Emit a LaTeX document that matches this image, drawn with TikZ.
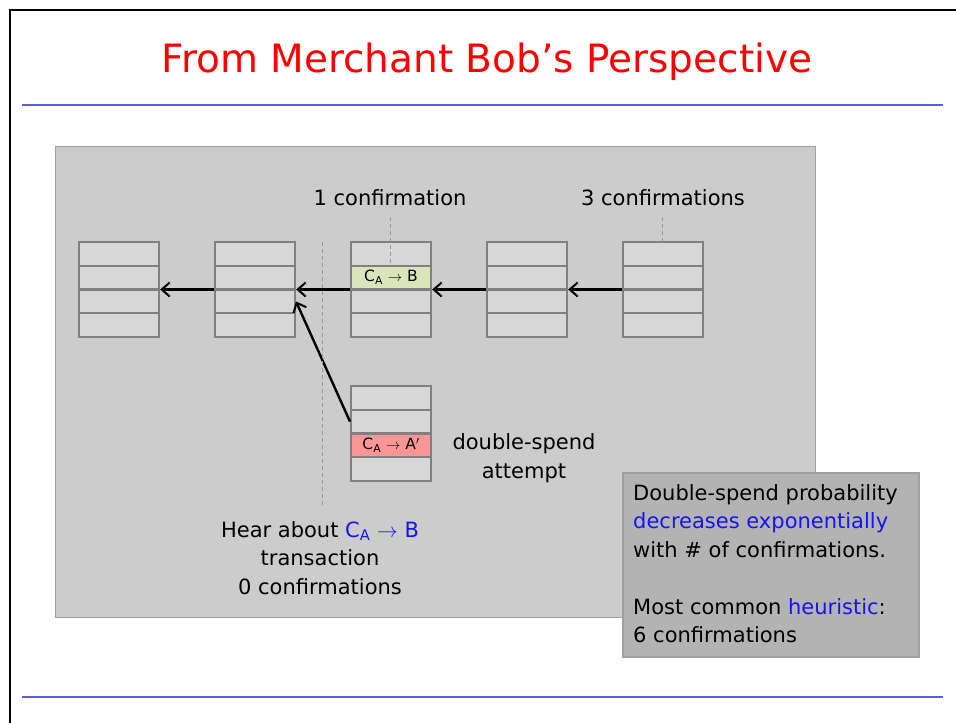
\documentclass[tikz,border=0pt]{standalone}
\usepackage{fontspec}
\setmainfont{DejaVu Sans}
\usetikzlibrary{arrows.meta,fit,positioning}
\definecolor{rulecol}{RGB}{88,98,214}
\definecolor{panelfill}{RGB}{204,204,204}
\definecolor{panelline}{RGB}{160,160,160}
\definecolor{rowfill}{RGB}{215,215,215}
\definecolor{rowline}{RGB}{128,128,128}
\definecolor{greenrow}{RGB}{218,230,186}
\definecolor{redrow}{RGB}{250,150,150}
\definecolor{notefill}{RGB}{179,179,179}
\definecolor{txtblue}{RGB}{20,20,245}
\tikzset{
  rowbox/.style={draw=rowline, line width=2pt, fill=rowfill, minimum width=80pt,
    minimum height=23.75pt, inner sep=0pt, font=\fontsize{15.5}{16}\selectfont},
  link/.style={line width=2.4pt, -{Straight Barb[length=8pt,width=14pt,line width=2pt]}},
  guide/.style={draw=gray!80, line width=0.8pt, dash pattern=on 4pt off 3pt},
  lbl/.style={font=\fontsize{21}{28.5}\selectfont, align=center, inner sep=0pt},
}
\begin{document}
\begin{tikzpicture}[x=1pt,y=-1pt]
\useasboundingbox (0,0) rectangle (956,723);
\fill[white] (0,0) rectangle (956,723);
% slide frame
\draw[line width=2pt] (10,723) -- (10,10) -- (957,10);
% title and rules
\node[text=red, font=\fontsize{39}{42}\selectfont, inner sep=0pt] (title) at (487,62) {From Merchant Bob’s Perspective};
\draw[rulecol, line width=2pt] (22,105) -- (943,105);
\draw[rulecol, line width=2pt] (22,697) -- (943,697);
% panel
\node[draw=panelline, line width=1pt, fill=panelfill, minimum width=760pt, minimum height=471pt, inner sep=0pt] (panel) at (435,381.5) {};
% the chain of blocks
\foreach \i/\x in {1/119,2/255,3/391,4/527,5/663}{
  \foreach \r/\y in {1/253.9,2/277.6,3/301.4,4/325.1}{
    \node[rowbox] (b\i r\r) at (\x,\y) {};
  }
  \node[fit=(b\i r1)(b\i r4), inner sep=0pt] (b\i) {};
}
\node[rowbox, fill=greenrow] at (b3r2) {C\textsubscript{A} $\rightarrow$ B};
% the competing block
\foreach \r/\y in {1/397.9,2/421.6,3/445.4,4/469.1}{
  \node[rowbox] (dr\r) at (391,\y) {};
}
\node[rowbox, fill=redrow] at (dr3) {C\textsubscript{A} $\rightarrow$ A$'$};
\node[fit=(dr1)(dr4), inner sep=0pt] (dbl) {};
% links to parent blocks
\draw[link] (b2.west) -- (b1.east);
\draw[link] (b3.west) -- (b2.east);
\draw[link] (b4.west) -- (b3.east);
\draw[link] (b5.west) -- (b4.east);
\draw[link] (dr2.west) -- (b2r3.east);
% labels and guide lines
\node[lbl] (one) at (390,198) {1 confirmation};
\node[lbl] (three) at (663,198) {3 confirmations};
\coordinate (c1a) at (390.5,217);
\coordinate (c3a) at (662,217);
\draw[guide] (c1a) -- (b3r2.north -| c1a);
\draw[guide] (c3a) -- (b5.north -| c3a);
\coordinate (hearTop) at (322.5,242);
\coordinate (hearBot) at (322.5,505);
\draw[guide] (hearTop) -- (hearBot);
\node[lbl] (ds) at (524,458) {double-spend\\attempt};
\node[lbl] (hear) at (320,558) {Hear about \textcolor{txtblue}{C\textsubscript{A} $\rightarrow$ B}\\transaction\\0 confirmations};
% note box
\node[draw=panelline, line width=1.5pt, fill=notefill, minimum width=296pt, minimum height=184pt, inner sep=0pt] (note) at (771,565) {};
\node[lbl, align=left, anchor=north west] (notetext) at (633,484) {Double-spend probability\\\textcolor{txtblue}{decreases exponentially}\\with \# of confirmations.\\[28.5pt]Most common \textcolor{txtblue}{heuristic}:\\6 confirmations};
\end{tikzpicture}
\end{document}
